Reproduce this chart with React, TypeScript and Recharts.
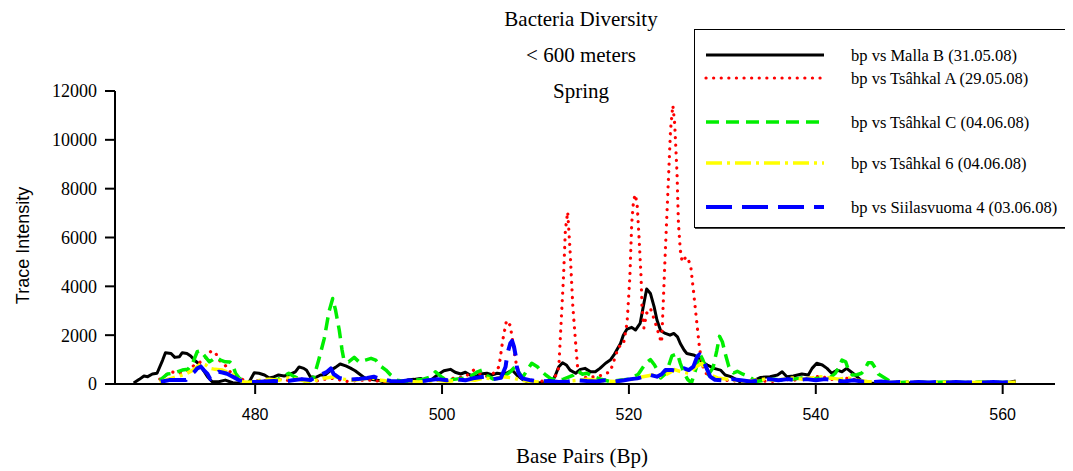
import { Legend, Line, LineChart, XAxis, YAxis } from 'recharts';

// trace intensity vs base pair
const mallaB: [number, number][] = [
  [467.0, 40], [467.6, 190], [468.1, 330], [468.5, 300], [469.0, 410], [469.5, 440], [470.1, 980],
  [470.4, 1280], [471.0, 1250], [471.4, 1090], [471.9, 1120], [472.2, 1280], [472.7, 1250], [473.1, 1150],
  [473.5, 980], [473.9, 850], [474.4, 600], [474.9, 300], [475.4, 95], [476.1, 95], [476.8, 160],
  [477.6, 50], [478.4, 40], [479.3, 40], [479.9, 460], [480.4, 440], [481.0, 370], [481.5, 250],
  [482.0, 290], [482.5, 370], [483.1, 330], [483.6, 370], [484.3, 500], [484.7, 700], [485.2, 640],
  [485.5, 560], [485.9, 300], [486.5, 270], [487.0, 370], [487.5, 370], [488.1, 570], [488.6, 680],
  [489.1, 820], [489.7, 740], [490.2, 650], [490.7, 540], [491.3, 370], [491.8, 230], [492.4, 190],
  [492.9, 160], [493.4, 130], [494.1, 50], [494.8, 20], [495.6, 95], [496.3, 160], [497.0, 190],
  [497.7, 230], [498.2, 130], [498.8, 160], [499.5, 370], [500.2, 540], [500.9, 600], [501.4, 480],
  [502.0, 410], [502.5, 480], [503.0, 370], [503.6, 300], [504.1, 410], [504.8, 440], [505.4, 370],
  [505.9, 440], [506.4, 410], [507.0, 460], [507.5, 570], [508.0, 370], [508.6, 190], [509.1, 95],
  [509.8, 55], [510.5, 55], [511.3, 95], [511.8, 110], [512.1, 330], [512.5, 710], [512.9, 870],
  [513.3, 780], [513.7, 570], [514.3, 440], [514.8, 600], [515.3, 640], [515.9, 500], [516.4, 500],
  [516.9, 640], [517.5, 850], [518.0, 980], [518.4, 1190], [518.7, 1390], [519.1, 1660], [519.4, 2000],
  [519.8, 2250], [520.3, 2320], [520.7, 2210], [521.2, 2480], [521.6, 3300], [521.9, 3890], [522.3, 3710],
  [522.7, 3160], [523.0, 2620], [523.4, 2180], [523.9, 2070], [524.4, 2000], [524.8, 2070], [525.2, 1930],
  [525.5, 1660], [525.9, 1390], [526.2, 1250], [526.9, 1190], [527.3, 1120], [527.8, 910], [528.4, 780],
  [529.1, 640], [529.8, 570], [530.3, 370], [530.9, 300], [531.6, 160], [532.1, 30], [532.6, 95],
  [533.2, 110], [534.1, 270], [535.1, 300], [535.9, 370], [536.4, 500], [536.9, 300], [537.6, 330],
  [538.5, 410], [539.2, 370], [539.6, 640], [540.1, 850], [540.7, 780], [541.2, 640], [541.7, 440],
  [542.3, 570], [542.8, 500], [543.3, 640], [543.9, 460], [544.2, 370], [544.8, 160], [545.5, 40],
  [546.6, 20], [547.5, 60], [548.5, 30], [549.5, 50], [550.5, 40], [551.5, 70], [552.5, 40],
  [553.5, 60], [554.5, 30], [555.5, 60], [556.5, 40], [557.5, 70], [558.5, 40], [559.5, 60],
  [560.5, 50], [561.4, 120],
];

const tsahkalA: [number, number][] = [
  [469.8, 200], [470.4, 350], [471.0, 500], [471.5, 460], [472.2, 450], [472.9, 570], [473.5, 780],
  [474.0, 870], [474.6, 1000], [475.3, 1360], [475.8, 1250], [476.1, 980], [476.6, 870], [477.1, 600],
  [477.7, 330], [478.3, 250], [479.0, 120], [479.8, 100], [480.5, 150], [481.5, 120], [482.5, 200],
  [483.5, 150], [484.5, 250], [485.5, 150], [486.5, 120], [487.5, 200], [488.4, 230], [489.2, 150],
  [490.0, 100], [491.0, 150], [492.4, 160], [493.5, 100], [494.5, 60], [495.5, 80], [496.5, 120],
  [497.5, 100], [498.5, 130], [499.5, 150], [500.5, 200], [501.5, 250], [502.5, 300], [503.4, 570],
  [503.9, 450], [504.5, 300], [505.2, 350], [505.7, 500], [506.1, 710], [506.5, 1800], [506.9, 2600],
  [507.3, 2400], [507.7, 1390], [508.0, 700], [508.4, 300], [509.0, 150], [510.0, 100], [511.0, 120],
  [511.8, 200], [512.3, 400], [512.5, 710], [512.7, 2210], [513.0, 4390], [513.2, 6300], [513.45, 7050],
  [513.7, 5480], [514.0, 3160], [514.3, 1660], [514.5, 710], [514.9, 350], [515.5, 250], [516.3, 300],
  [517.0, 350], [518.0, 500], [518.6, 1190], [518.9, 1530], [519.4, 1600], [519.8, 2500], [520.1, 4390],
  [520.3, 6570], [520.5, 7530], [520.7, 7760], [520.9, 7250], [521.1, 5890], [521.3, 4390], [521.4, 3160],
  [521.6, 2300], [521.9, 2900], [522.3, 3100], [522.7, 2650], [523.0, 2300], [523.3, 1900], [523.5, 1700],
  [523.7, 3570], [523.9, 5480], [524.1, 7250], [524.3, 9030], [524.45, 10390], [524.7, 11410], [524.9, 10660],
  [525.15, 8610], [525.3, 6570], [525.5, 5480], [525.7, 5000], [526.0, 5150], [526.2, 5210], [526.6, 4870],
  [526.9, 3840], [527.2, 2750], [527.5, 1660], [527.7, 1120], [528.0, 600], [528.5, 300], [529.5, 200],
  [530.5, 150], [531.5, 120], [532.5, 100], [533.5, 150], [534.5, 120], [535.5, 100], [536.5, 200],
  [537.5, 150], [538.5, 200], [539.5, 250], [540.5, 330], [541.5, 200], [542.5, 150], [543.5, 250],
  [544.5, 150], [545.5, 100], [546.5, 80], [548, 60], [550, 80], [552, 60], [554, 80], [556, 60],
  [558, 80], [560, 60], [561.4, 80],
];

const tsahkalC: [number, number][] = [
  [469.8, 150], [470.6, 410], [471.3, 440], [472.2, 570], [472.8, 600], [473.3, 850], [473.8, 1320],
  [474.2, 1360], [474.5, 1190], [475.1, 910], [475.4, 980], [475.8, 1090], [476.3, 980], [476.8, 910],
  [477.3, 900], [477.6, 780], [477.9, 440], [478.3, 230], [479.0, 95], [479.8, 60], [480.5, 120],
  [481.5, 150], [482.5, 200], [483.6, 440], [484.2, 300], [485.0, 150], [485.7, 100], [486.3, 300],
  [486.8, 980], [487.4, 1870], [487.9, 2960], [488.3, 3500], [488.6, 3030], [489.0, 2210], [489.3, 1390],
  [489.5, 980], [490.0, 910], [490.6, 1090], [491.1, 910], [491.8, 980], [492.4, 1050], [492.9, 980],
  [493.4, 740], [494.0, 570], [494.5, 370], [495.2, 160], [496.0, 100], [497.0, 150], [498.0, 200],
  [498.8, 300], [499.3, 500], [499.9, 300], [500.5, 150], [501.5, 200], [502.5, 250], [503.2, 350],
  [503.8, 500], [504.3, 570], [504.8, 350], [505.5, 200], [506.2, 250], [506.8, 350], [507.3, 500],
  [507.8, 700], [508.2, 500], [508.6, 250], [509.1, 570], [509.6, 850], [510.2, 710], [510.5, 570],
  [511.1, 370], [511.6, 230], [512.3, 150], [513.0, 200], [514.0, 350], [514.5, 550], [515.0, 400],
  [515.5, 440], [516.2, 300], [517.0, 200], [518.0, 100], [519.0, 150], [520.0, 200], [521.0, 400],
  [521.8, 850], [522.3, 1000], [522.7, 800], [523.0, 600], [523.4, 245], [524.0, 450], [524.6, 1150],
  [525.2, 1240], [525.5, 850], [525.9, 440], [526.3, 175], [526.7, 50], [527.2, 660], [527.6, 1220],
  [527.9, 1000], [528.5, 380], [529.0, 660], [529.4, 1360], [529.7, 1950], [530.0, 1730], [530.3, 1250],
  [530.7, 710], [531.2, 450], [531.6, 520], [532.2, 400], [532.8, 310], [533.6, 100], [534.5, 150],
  [535.5, 200], [536.5, 150], [537.5, 200], [538.5, 250], [539.5, 200], [540.5, 250], [541.5, 250],
  [542.1, 440], [542.5, 710], [542.8, 980], [543.2, 910], [543.5, 570], [543.9, 370], [544.4, 380],
  [544.9, 440], [545.3, 640], [545.6, 870], [546.0, 870], [546.4, 640], [546.7, 410], [547.3, 270],
  [548.0, 100], [549.0, 60], [550.0, 80], [552, 60], [554, 80], [556, 60], [558, 80], [560, 60],
  [561.4, 80],
];

const tsahkal6: [number, number][] = [
  [469.8, 60], [470.4, 160], [471.2, 250], [472.2, 370], [472.7, 440], [473.3, 560], [473.8, 710],
  [474.2, 850], [474.7, 780], [475.2, 640], [475.7, 600], [476.5, 570], [477.4, 440], [477.9, 300],
  [478.6, 95], [479.5, 60], [480.5, 150], [481.5, 200], [482.5, 150], [483.5, 250], [484.5, 200],
  [485.5, 100], [486.5, 150], [487.5, 250], [488.5, 300], [489.5, 200], [490.5, 150], [491.5, 200],
  [492.5, 250], [493.5, 150], [494.5, 100], [495.5, 60], [496.5, 100], [497.5, 80], [498.5, 120],
  [499.5, 150], [500.5, 100], [501.5, 150], [502.5, 200], [503.5, 150], [504.5, 250], [505.5, 200],
  [506.5, 300], [507.5, 250], [508.5, 150], [509.5, 100], [510.5, 80], [511.5, 100], [512.5, 60],
  [513.5, 120], [514.5, 150], [515.5, 200], [516.5, 150], [517.5, 120], [518.5, 100], [519.5, 150],
  [520.5, 200], [521.5, 300], [522.7, 380], [523.5, 300], [524.3, 450], [524.9, 590], [525.6, 500],
  [526.4, 450], [527.2, 700], [527.8, 850], [528.3, 550], [528.7, 370], [529.5, 250], [530.5, 200],
  [531.5, 150], [532.5, 100], [533.5, 150], [534.5, 200], [535.5, 150], [536.5, 200], [537.5, 250],
  [538.5, 200], [539.5, 250], [540.5, 300], [541.5, 250], [542.5, 200], [543.5, 250], [544.5, 150],
  [545.5, 100], [546.5, 80], [548, 60], [550, 80], [552, 50], [554, 70], [556, 50], [558, 70],
  [560, 50], [561.4, 70],
];

const siilasvuoma4: [number, number][] = [
  [469.9, 95], [470.8, 160], [471.9, 160], [472.6, 160], [472.9, 300], [473.5, 500], [473.8, 640],
  [474.2, 710], [474.5, 570], [474.9, 410], [475.2, 200], [475.6, 380], [476.1, 500], [476.5, 470],
  [477.0, 420], [477.6, 300], [478.3, 150], [479.0, 100], [480.0, 80], [481.0, 100], [482.0, 120],
  [483.0, 100], [484.0, 150], [485.0, 200], [485.9, 160], [487.0, 370], [487.7, 500], [488.1, 640],
  [488.4, 410], [489.0, 250], [490.0, 180], [491.0, 200], [492.0, 250], [492.7, 300], [493.5, 200],
  [494.5, 120], [495.5, 100], [496.5, 150], [497.5, 100], [498.5, 150], [499.5, 200], [500.5, 150],
  [501.5, 200], [502.5, 150], [503.5, 250], [504.5, 300], [505.5, 200], [506.3, 250], [506.8, 710],
  [507.0, 1250], [507.3, 1660], [507.5, 1770], [507.7, 1530], [507.9, 1120], [508.0, 710], [508.2, 440],
  [508.6, 230], [509.5, 150], [510.5, 100], [511.5, 120], [512.5, 80], [513.5, 100], [514.5, 150],
  [515.5, 120], [516.5, 100], [517.5, 150], [518.5, 100], [519.5, 150], [520.2, 200], [520.9, 230],
  [521.6, 300], [522.3, 370], [523.0, 300], [523.5, 400], [523.9, 570], [524.6, 570], [525.3, 530],
  [525.9, 640], [526.4, 570], [526.9, 710], [527.3, 1120], [527.55, 1210], [527.9, 1000], [528.3, 660],
  [528.7, 300], [529.2, 175], [530.0, 150], [531.0, 200], [532.0, 150], [533.0, 100], [534.0, 150],
  [535.0, 200], [536.0, 150], [537.0, 200], [538.0, 150], [539.0, 200], [540.0, 150], [541.0, 200],
  [542.0, 150], [543.0, 100], [544.0, 150], [545.0, 100], [546.0, 80], [547.0, 100], [548.0, 60],
  [549.0, 80], [550.0, 60], [551.0, 80], [552.0, 60], [553.0, 80], [554.0, 60], [555.0, 80],
  [556.0, 60], [557.0, 80], [558.0, 60], [559.0, 80], [560.0, 60], [561.0, 80], [561.6, 150],
];

const BP_TICKS = [480, 500, 520, 540, 560];
const INTENSITY_TICKS = [0, 2000, 4000, 6000, 8000, 10000, 12000];
const TITLE_LINES = ['Bacteria Diversity', '< 600 meters', 'Spring'];

const SERIF = "'Liberation Serif', 'Times New Roman', serif";
const SANS = "'Liberation Sans', Arial, sans-serif";

const SERIES = [
  { name: 'bp vs Malla B (31.05.08)', pts: mallaB, color: '#000000', dash: undefined, width: 3, cap: 'butt' },
  { name: 'bp vs Tsâhkal A (29.05.08)', pts: tsahkalA, color: '#ff0000', dash: '0.1 7.5', width: 3.2, cap: 'round' },
  { name: 'bp vs Tsâhkal C (04.06.08)', pts: tsahkalC, color: '#00ee00', dash: '13 7', width: 3.5, cap: 'butt' },
  { name: 'bp vs Tsâhkal 6 (04.06.08)', pts: tsahkal6, color: '#ffff00', dash: '16 5 3 5', width: 3.5, cap: 'butt' },
  { name: 'bp vs Siilasvuoma 4 (03.06.08)', pts: siilasvuoma4, color: '#0000ff', dash: '26 10', width: 4, cap: 'butt' },
] as const;

const LEGEND_ROWS = [25, 48, 92, 133, 177];

const toRows = (pts: readonly (readonly [number, number])[]) => pts.map(([bp, v]) => ({ bp, v }));

function TraceLegend() {
  return (
    <div
      style={{
        width: 373,
        height: 199,
        boxSizing: 'border-box',
        border: '1.5px solid #000',
        boxShadow: '1px 1px 0 #444',
        background: '#fff',
      }}
    >
      <svg width={370} height={196}>
        {SERIES.map((s, i) => (
          <g key={s.name}>
            <line
              x1={11}
              x2={129}
              y1={LEGEND_ROWS[i]}
              y2={LEGEND_ROWS[i]}
              stroke={s.color}
              strokeWidth={s.width}
              strokeDasharray={s.dash}
              strokeLinecap={s.cap}
            />
            <text x={156} y={LEGEND_ROWS[i] + 6} fontFamily={SERIF} fontSize={16.5} fill="#000">
              {s.name}
            </text>
          </g>
        ))}
      </svg>
    </div>
  );
}

export default function App() {
  return (
    <LineChart width={1065} height={463} margin={{ top: 83, right: 18, bottom: 7, left: 7 }}>
      {TITLE_LINES.map((t, i) => (
        <text key={t} x={573} y={18 + i * 36} textAnchor="middle" fontFamily={SERIF} fontSize={21} fill="#000">
          {t}
        </text>
      ))}
      <XAxis
        type="number"
        dataKey="bp"
        domain={[465, 565.6]}
        ticks={BP_TICKS}
        allowDuplicatedCategory={false}
        height={80}
        tickSize={10}
        tickMargin={15}
        tick={{ fontFamily: SANS, fontSize: 16, fill: '#000' }}
        axisLine={{ stroke: '#000', strokeWidth: 2 }}
        tickLine={{ stroke: '#000', strokeWidth: 2 }}
        label={({ viewBox }: any) => (
          <text
            x={viewBox.x + viewBox.width / 2 - 3}
            y={viewBox.y + 79}
            textAnchor="middle"
            fontFamily={SERIF}
            fontSize={21}
            fill="#000"
          >
            Base Pairs (Bp)
          </text>
        )}
      />
      <YAxis
        type="number"
        domain={[0, 12000]}
        ticks={INTENSITY_TICKS}
        width={100}
        tickSize={10}
        tickMargin={8}
        tick={{ fontFamily: SERIF, fontSize: 18, fill: '#000' }}
        axisLine={{ stroke: '#000', strokeWidth: 2 }}
        tickLine={{ stroke: '#000', strokeWidth: 2 }}
        label={({ viewBox }: any) => {
          const cx = viewBox.x + 8;
          const cy = viewBox.y + viewBox.height / 2 + 8;
          return (
            <text
              x={cx}
              y={cy}
              transform={`rotate(-90, ${cx}, ${cy})`}
              textAnchor="middle"
              dominantBaseline="central"
              fontFamily={SANS}
              fontSize={18}
              fill="#000"
            >
              Trace Intensity
            </text>
          );
        }}
      />
      <Legend
        verticalAlign="middle"
        align="center"
        content={() => <TraceLegend />}
        wrapperStyle={{ left: 686, top: 21, width: 373, height: 199 }}
      />
      {SERIES.map((s) => (
        <Line
          key={s.name}
          data={toRows(s.pts)}
          dataKey="v"
          name={s.name}
          type="linear"
          stroke={s.color}
          strokeWidth={s.width}
          strokeDasharray={s.dash}
          strokeLinecap={s.cap}
          strokeLinejoin="round"
          dot={false}
          activeDot={false}
          isAnimationActive={false}
        />
      ))}
    </LineChart>
  );
}
